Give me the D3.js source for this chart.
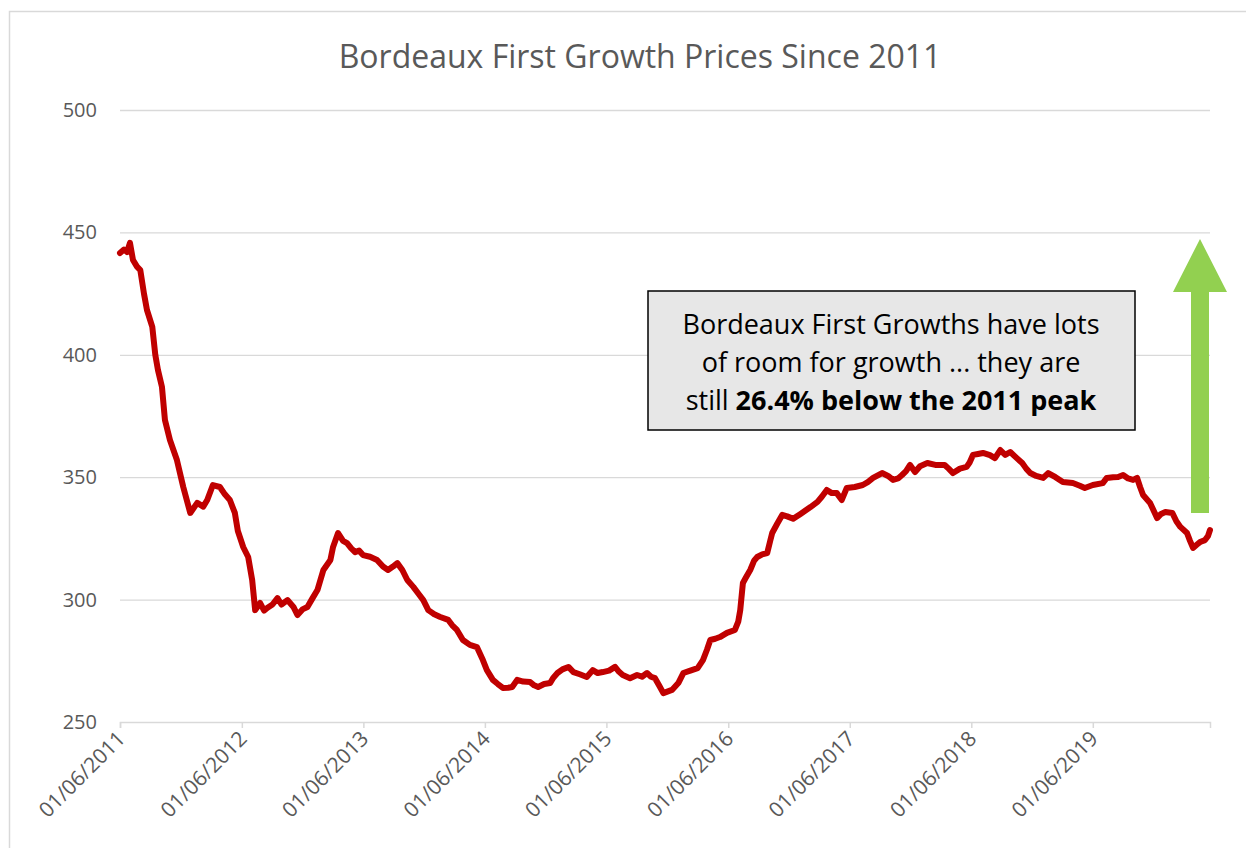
<!DOCTYPE html>
<html>
<head>
<meta charset="utf-8">
<script src="https://cdn.jsdelivr.net/npm/d3@7"></script>
<style>
  body { margin: 0; background: #fff; }
  svg { display: block; font-family: "Open Sans", "Noto Sans", sans-serif; }
</style>
</head>
<body>
<div id="chart"></div>
<script>
// price index
const dates = [
  "2011-06-01","2011-06-13","2011-06-22","2011-07-01","2011-07-10","2011-07-22","2011-08-01","2011-08-12","2011-08-21","2011-09-06",
  "2011-09-15","2011-09-23","2011-10-05","2011-10-14","2011-10-29","2011-11-19","2011-12-08","2011-12-29","2012-01-19","2012-02-06",
  "2012-02-18","2012-03-06","2012-03-27","2012-04-11","2012-04-26","2012-05-11","2012-05-20","2012-06-05","2012-06-20","2012-07-02",
  "2012-07-11","2012-07-26","2012-08-07","2012-08-16","2012-09-01","2012-09-16","2012-09-28","2012-10-16","2012-11-03","2012-11-15",
  "2012-11-30","2012-12-15","2012-12-30","2013-01-14","2013-02-01","2013-02-22","2013-03-02","2013-03-17","2013-04-01","2013-04-13",
  "2013-04-25","2013-05-07","2013-05-19","2013-05-31","2013-06-21","2013-07-12","2013-07-30","2013-08-14","2013-08-29","2013-09-11",
  "2013-09-26","2013-10-11","2013-10-29","2013-11-13","2013-11-28","2013-12-13","2013-12-31","2014-01-18","2014-02-11","2014-02-23",
  "2014-03-09","2014-03-27","2014-04-17","2014-05-08","2014-05-26","2014-06-07","2014-06-25","2014-07-10","2014-07-25","2014-08-10",
  "2014-08-22","2014-09-06","2014-09-24","2014-10-15","2014-10-27","2014-11-08","2014-11-26","2014-12-14","2014-12-23","2015-01-05",
  "2015-01-20","2015-02-07","2015-02-22","2015-03-13","2015-04-03","2015-04-21","2015-05-06","2015-05-21","2015-06-09","2015-06-27",
  "2015-07-09","2015-07-20","2015-08-11","2015-09-01","2015-09-16","2015-10-01","2015-10-13","2015-10-25","2015-11-06","2015-11-19",
  "2015-12-03","2015-12-15","2016-01-03","2016-01-18","2016-02-08","2016-03-01","2016-03-17","2016-03-29","2016-04-08","2016-04-23",
  "2016-05-07","2016-05-28","2016-06-21","2016-07-01","2016-07-07","2016-07-15","2016-07-24","2016-08-06","2016-08-18","2016-08-27",
  "2016-09-11","2016-09-26","2016-10-05","2016-10-11","2016-10-26","2016-11-10","2016-11-25","2016-12-13","2017-01-04","2017-02-03",
  "2017-02-24","2017-03-09","2017-03-24","2017-04-08","2017-04-23","2017-05-08","2017-05-23","2017-06-16","2017-07-10","2017-07-25",
  "2017-08-10","2017-09-06","2017-09-24","2017-10-09","2017-10-24","2017-11-05","2017-11-17","2017-11-29","2017-12-14","2017-12-29",
  "2018-01-20","2018-02-13","2018-03-13","2018-03-25","2018-04-07","2018-04-28","2018-05-18","2018-05-27","2018-06-06","2018-06-21",
  "2018-07-06","2018-07-27","2018-08-11","2018-08-27","2018-09-11","2018-09-26","2018-10-14","2018-11-01","2018-11-13","2018-11-25",
  "2018-12-13","2019-01-03","2019-01-18","2019-02-09","2019-03-03","2019-04-02","2019-04-23","2019-05-08","2019-06-01","2019-07-01",
  "2019-07-13","2019-08-01","2019-08-16","2019-08-31","2019-09-15","2019-09-30","2019-10-12","2019-10-21","2019-10-30","2019-11-20",
  "2019-12-02","2019-12-11","2019-12-23","2020-01-05","2020-01-26","2020-02-07","2020-02-19","2020-03-10","2020-03-19","2020-03-28",
  "2020-04-09","2020-04-18","2020-05-03","2020-05-12","2020-05-18"
];
const prices = [
  441.6,443,442,445.7,438.7,436,434.6,425,418.3,411.4,
  400,393.8,386.9,373.4,365.2,357,346,335.4,339.5,338,
  340.7,346.8,346,343,340.7,335.4,328,321.5,317.4,308,
  295.7,298.6,295.5,296.6,298,300.6,298,299.8,297,293.7,
  296,297,300.5,303.9,312.1,316.2,321.5,327.2,324,323.1,
  321,319.4,320,318.2,317.5,316.2,313.5,312.1,313.5,314.9,
  312.1,308,305.2,302.5,299.8,295.7,294,292.9,291.7,289.5,
  287.6,283.5,281.5,280.6,275.3,271.2,267.2,265.5,263.9,264,
  264.3,267.2,266.5,266.3,265,264.3,265.5,265.9,268,270,
  271.5,272.5,270.4,269.5,268.4,271.2,270,270.4,271,272.5,
  270.5,269.2,267.9,269.2,268.5,270,268.5,267.9,265,261.8,
  262.5,263.1,265.9,270,271,272,275.3,279.5,283.5,284,
  284.7,286.4,287.6,291,295.7,306.8,309,312.1,316,317.4,
  318.5,319,324,327.2,331,334.6,334,333,335,337.8,
  339.9,342,344.8,343.5,343.5,340.7,345.6,346,346.8,348,
  349.7,351.7,350.5,348.9,349.5,350.9,352.5,355,352.1,354.5,
  355.8,355,355,353.5,351.7,353.5,354.2,356,359.1,359.5,
  359.9,359,357.8,361.1,359.1,360.3,358,355.8,353.5,351.7,
  350.5,349.7,351.7,350,348,347.6,346.5,345.6,346.8,347.6,
  349.7,350,350.1,350.9,349.5,348.9,349.7,346,342.7,339.5,
  336,333.3,335,335.8,335.4,332,329.7,327.2,324,321.1,
  322.5,323.5,324.3,326,328.4
];
const yTicks = [250, 300, 350, 400, 450, 500];
const xTickDates = ["2011-06-01","2012-06-01","2013-06-01","2014-06-01","2015-06-01",
                    "2016-06-01","2017-06-01","2018-06-01","2019-06-01"];
const chartTitle = "Bordeaux First Growth Prices Since 2011";
const noteLines = [
  [{ t: "Bordeaux First Growths have lots", b: false }],
  [{ t: "of room for growth ... they are", b: false }],
  [{ t: "still ", b: false }, { t: "26.4% below the 2011 peak", b: true }]
];

const width = 1246, height = 848;
const margin = { top: 110, right: 36, bottom: 126, left: 120 };
const parse = d3.timeParse("%Y-%m-%d");
const fmt = d3.timeFormat("%d/%m/%Y");

const series = dates.map((d, i) => ({ date: parse(d), value: prices[i] }));

const svg = d3.select("#chart").append("svg")
    .attr("width", width)
    .attr("height", height);

// outer chart border (runs off the right/bottom of the shot)
svg.append("rect")
    .attr("x", 9.5).attr("y", 11.5)
    .attr("width", width + 20).attr("height", height + 20)
    .attr("fill", "none")
    .attr("stroke", "#d9d9d9")
    .attr("stroke-width", 1.5);

const x = d3.scaleTime()
    .domain([parse(dates[0]), parse(dates[dates.length - 1])])
    .range([margin.left, width - margin.right]);

const y = d3.scaleLinear()
    .domain([250, 500])
    .range([height - margin.bottom, margin.top]);

// grid + y labels
const yAxis = svg.append("g")
    .attr("transform", `translate(${margin.left},0)`)
    .call(d3.axisLeft(y).tickValues(yTicks.slice(1))
        .tickSize(-(width - margin.right - margin.left)).tickPadding(23));
yAxis.select(".domain").remove();
yAxis.selectAll(".tick line").attr("stroke", "#d9d9d9").attr("stroke-width", 1.3);
yAxis.selectAll(".tick text")
    .attr("fill", "#595959").style("font-size", "20px").style("font-family", "Open Sans");

// y label for 250 sits with the x axis
const y250 = svg.append("g")
    .attr("transform", `translate(${margin.left},0)`)
    .call(d3.axisLeft(y).tickValues([yTicks[0]]).tickSize(0).tickPadding(23));
y250.select(".domain").remove();
y250.selectAll(".tick text")
    .attr("fill", "#595959").style("font-size", "20px").style("font-family", "Open Sans");

// x axis
const xAxis = svg.append("g")
    .attr("transform", `translate(0,${height - margin.bottom})`)
    .call(d3.axisBottom(x).tickValues(xTickDates.map(parse)).tickFormat(fmt).tickSize(6));
xAxis.select(".domain").attr("stroke", "#d9d9d9").attr("stroke-width", 1.5);
xAxis.selectAll(".tick line").attr("stroke", "#d9d9d9").attr("stroke-width", 1.5);
xAxis.selectAll(".tick text")
    .attr("fill", "#595959")
    .style("font-size", "21px")
    .style("font-family", "Open Sans")
    .attr("text-anchor", "end")
    .attr("dy", null)
    .attr("y", 0)
    .attr("transform", "translate(6,18) rotate(-45)");

// price line
svg.append("path")
    .datum(series)
    .attr("fill", "none")
    .attr("stroke", "#c00000")
    .attr("stroke-width", 6)
    .attr("stroke-linejoin", "round")
    .attr("stroke-linecap", "round")
    .attr("d", d3.line().x(d => x(d.date)).y(d => y(d.value)));

// title
svg.append("text")
    .attr("x", 640)
    .attr("y", 68)
    .attr("text-anchor", "middle")
    .attr("fill", "#595959")
    .style("font-size", "32px")
    .text(chartTitle);

// annotation box
svg.append("rect")
    .attr("x", 648).attr("y", 291)
    .attr("width", 487).attr("height", 139)
    .attr("fill", "#e7e7e7")
    .attr("stroke", "#000")
    .attr("stroke-width", 1.5);

const note = svg.append("text")
    .attr("text-anchor", "middle")
    .attr("fill", "#000")
    .style("font-size", "27px");
noteLines.forEach((line, i) => {
    const row = note.append("tspan").attr("x", 891).attr("y", 334 + i * 38);
    line.forEach(part => {
        row.append("tspan")
            .style("font-weight", part.b ? "bold" : "normal")
            .text(part.t);
    });
});

// green arrow: from the latest value up to the old peak
const arrowBase = 513, arrowTip = 239, cx = 1200;
svg.append("path")
    .attr("d", `M${cx - 9},${arrowBase} L${cx - 9},292 L${cx - 27},292 L${cx},${arrowTip}
                L${cx + 27},292 L${cx + 9},292 L${cx + 9},${arrowBase} Z`)
    .attr("fill", "#92d050");
</script>
</body>
</html>
